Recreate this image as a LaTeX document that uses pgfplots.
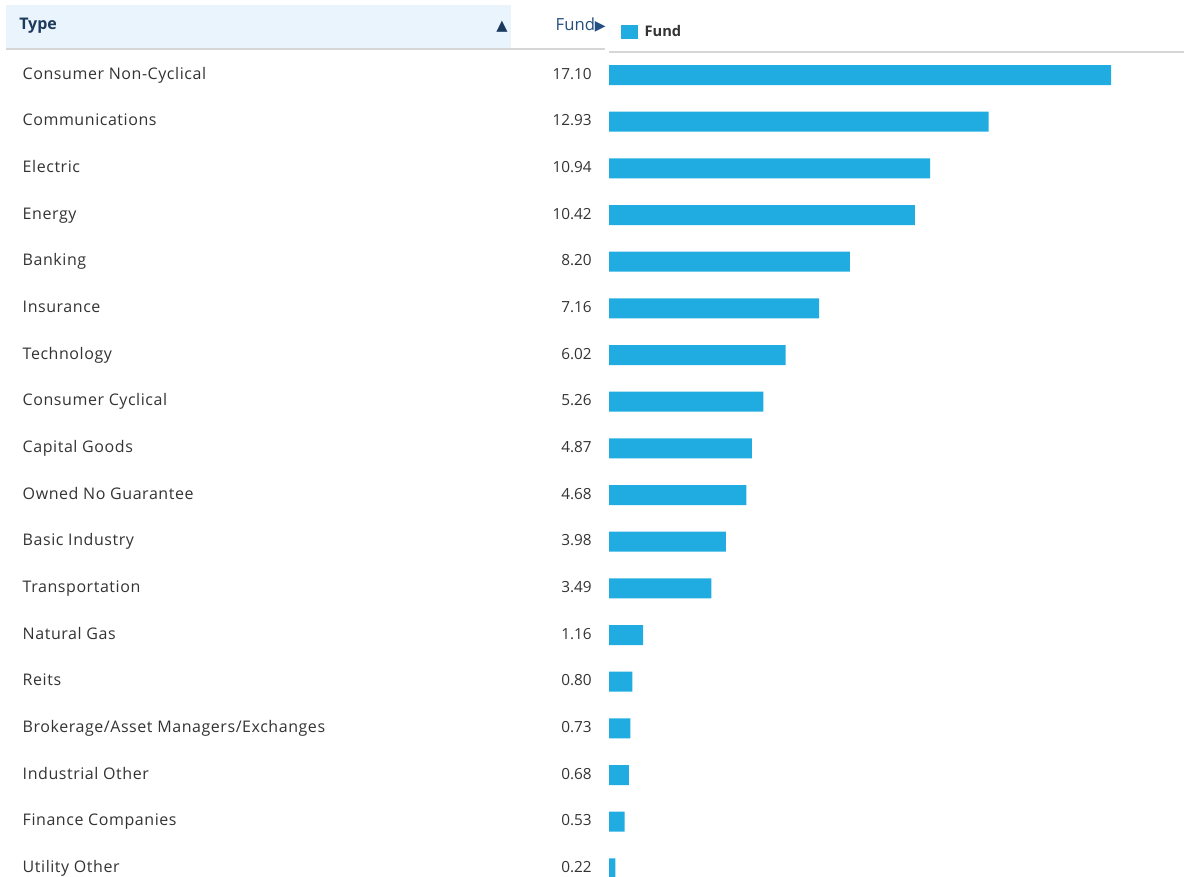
\documentclass[border=0pt]{standalone}
\usepackage{pgfplots}
\pgfplotsset{compat=1.18}
\usepackage{fontspec}
\setmainfont{Open Sans}
\newfontfamily\namefont[LetterSpace=3.5]{Open Sans}
\newfontfamily\symfont{DejaVu Sans}
\definecolor{fundblue}{HTML}{21ACE1}
\definecolor{headbg}{HTML}{EAF4FD}
\definecolor{navy}{HTML}{1B3A5C}
\definecolor{fundhead}{HTML}{244F80}
\definecolor{txt}{HTML}{333333}
\definecolor{rule}{HTML}{D6D6D6}
\newcommand{\lab}[2]{\makebox[426.75pt][l]{{\namefont\fontsize{12}{14}\selectfont #1}\hfill{\fontsize{11.5}{14}\selectfont #2}}}
\begin{document}
\begin{tikzpicture}
\useasboundingbox (0,0) rectangle (888pt,-657.75pt);
\fill[headbg] (4.5pt,-3.75pt) rectangle (383.25pt,-36pt);
\draw[rule, line width=1.2pt] (4.5pt,-36.75pt) -- (453.75pt,-36.75pt);
\draw[rule, line width=1.2pt] (456.75pt,-39pt) -- (888pt,-39pt);
\node[anchor=west, inner sep=0pt, text=navy, font=\fontsize{12}{14}\selectfont\bfseries] at (14.25pt,-19.5pt) {Type};
\node[inner sep=0pt, text=navy, font=\symfont\fontsize{11}{12}\selectfont] at (376.5pt,-20.25pt) {▲};
\node[anchor=east, inner sep=0pt, text=fundhead, font=\fontsize{12.5}{14}\selectfont] at (454.5pt,-19pt) {Fund{\symfont\fontsize{10.5}{12}\selectfont ▶}};
\begin{axis}[
  at={(456.75pt,-657.75pt)}, anchor=south west,
  scale only axis, width=431.25pt, height=618.75pt,
  xbar, bar width=15pt,
  xmin=0, xmax=19.585,
  ymin=-0.493, ymax=17.185, y dir=reverse,
  axis line style={draw=none},
  xtick=\empty,
  ytick={0,...,17},
  major tick length=0pt,
  yticklabel style={anchor=east, inner sep=0pt, xshift=-12.75pt, text=txt, text height=8.5pt, text depth=2.5pt},
  yticklabels={
    {\lab{Consumer Non-Cyclical}{17.10}},
    {\lab{Communications}{12.93}},
    {\lab{Electric}{10.94}},
    {\lab{Energy}{10.42}},
    {\lab{Banking}{8.20}},
    {\lab{Insurance}{7.16}},
    {\lab{Technology}{6.02}},
    {\lab{Consumer Cyclical}{5.26}},
    {\lab{Capital Goods}{4.87}},
    {\lab{Owned No Guarantee}{4.68}},
    {\lab{Basic Industry}{3.98}},
    {\lab{Transportation}{3.49}},
    {\lab{Natural Gas}{1.16}},
    {\lab{Reits}{0.80}},
    {\lab{Brokerage/Asset Managers/Exchanges}{0.73}},
    {\lab{Industrial Other}{0.68}},
    {\lab{Finance Companies}{0.53}},
    {\lab{Utility Other}{0.22}}
  },
  legend style={at={(0,1)}, anchor=south west, xshift=8.5pt, yshift=8pt, draw=none, fill=none, inner sep=0pt,
    font=\fontsize{11}{13}\selectfont\bfseries, text=txt},
  legend image code/.code={\fill[fundblue] (0pt,-5pt) rectangle (13pt,5pt);},
]
\addplot[fill=fundblue, draw=none] coordinates {
(17.10,0) (12.93,1) (10.94,2) (10.42,3) (8.20,4) (7.16,5) (6.02,6) (5.26,7) (4.87,8)
(4.68,9) (3.98,10) (3.49,11) (1.16,12) (0.80,13) (0.73,14) (0.68,15) (0.53,16) (0.22,17)
};
\addlegendentry{\hspace{3pt}Fund}
\end{axis}
\end{tikzpicture}
\end{document}
